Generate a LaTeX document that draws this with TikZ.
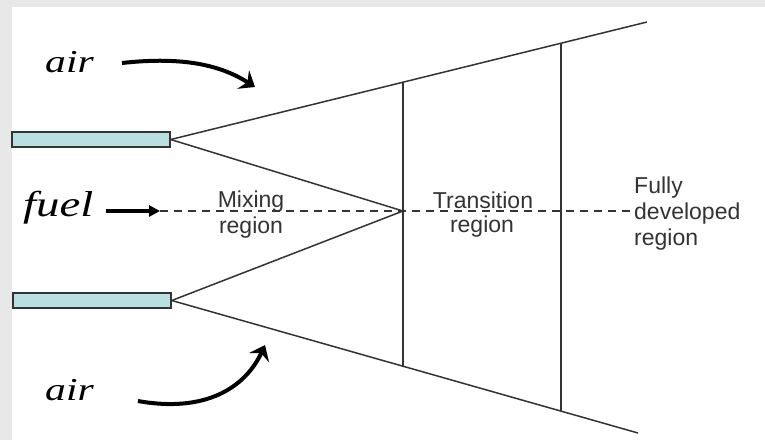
\documentclass[tikz,border=0pt]{standalone}
\usepackage{fontspec}
\setmainfont{Liberation Serif}
\setsansfont{Liberation Sans}
\usetikzlibrary{arrows.meta}
\definecolor{bordergray}{HTML}{E8E8E8}
\definecolor{pipefill}{HTML}{B8E0E2}
\definecolor{ink}{HTML}{333333}
\begin{document}
\begin{tikzpicture}[x=1pt,y=-1pt,
  edge/.style={draw=ink, line width=1.5pt},
  pipe/.style={draw=ink, fill=pipefill, line width=1.5pt, rectangle,
    minimum width=158pt, minimum height=15pt, inner sep=0pt},
  airtext/.style={font=\fontsize{32}{36}\selectfont\itshape, inner sep=0pt, anchor=base west},
  fueltext/.style={font=\fontsize{36}{40}\selectfont\itshape, inner sep=0pt, anchor=base west},
  lab/.style={font=\sffamily\fontsize{23}{26}\selectfont, text=ink, inner sep=0pt},
  flow/.style={line width=4pt, -{Stealth[length=14pt,width=22pt,inset=5pt]}},
  ]
\fill[bordergray] (0,0) rectangle (765,440);
\fill[white] (12,7) rectangle (765,440);
\useasboundingbox (0,0) rectangle (765,440);

% pipes
\node[pipe] (pipeT) at (91,139.5) {};
\node[pipe] (pipeB) at (92,300.5) {};

% key points
\coordinate (conv) at (403,211);
\coordinate (endT) at (647,22);
\coordinate (endB) at (638,433);
\coordinate (v1T) at (403,82);
\coordinate (v1B) at (403,366);
\coordinate (v2T) at (561,43);
\coordinate (v2B) at (561,411);

% jet boundaries
\draw[edge] (pipeT.east) -- (endT);
\draw[edge] (pipeT.east) -- (conv);
\draw[edge] (pipeB.east) -- (conv);
\draw[edge] (pipeB.east) -- (endB);
\draw[edge] (v1T) -- (v1B);
\draw[edge] (v2T) -- (v2B);

% texts
\node[airtext] (airT) at (45,72) {\scalebox{1.3}[1]{air}};
\node[airtext] (airB) at (45,400) {\scalebox{1.3}[1]{air}};
\node[fueltext] (fuel) at (23,216) {\scalebox{1.3}[1]{fuel}};

% fuel arrow and axis
\coordinate (fuelS) at (106,211);
\coordinate (fuelE) at (160,211);
\coordinate (axisE) at (634,211);
\draw[line width=4.5pt, -{Triangle[length=11pt,width=11pt]}] (fuelS) -- (fuelE);
\draw[draw=ink, line width=1.3pt, dash pattern=on 8pt off 6pt] (fuelE) -- (axisE);

% air arrows
\coordinate (aTs) at (122,63);
\coordinate (aTe) at (255,87);
\coordinate (aBs) at (138,401);
\coordinate (aBe) at (265,345);
\draw[flow] (aTs) .. controls (185,56) and (222,66) .. (aTe);
\draw[flow] (aBs) .. controls (205,413) and (245,388) .. (aBe);

% region labels
\node[lab, anchor=base] (mix1) at (251,207) {Mixing};
\node[lab, anchor=base] (mix2) at (251,233) {region};
\node[lab, anchor=base] (tr1) at (483,208) {Transition};
\node[lab, anchor=base] (tr2) at (482,232) {region};
\node[lab, anchor=base west] (fd1) at (634,193) {Fully};
\node[lab, anchor=base west] (fd2) at (634,219) {developed};
\node[lab, anchor=base west] (fd3) at (634,245) {region};
\end{tikzpicture}
\end{document}
